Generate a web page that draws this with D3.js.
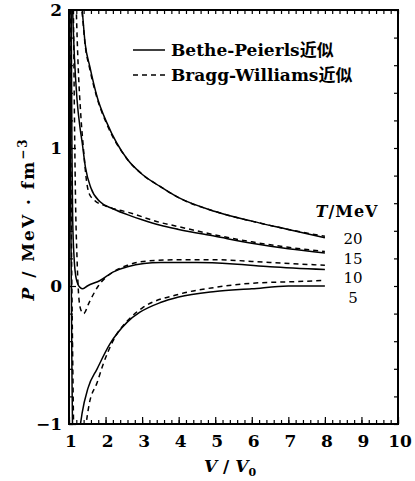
<!DOCTYPE html>
<html>
<head>
<meta charset="utf-8">
<script src="https://cdn.jsdelivr.net/npm/d3@7"></script>
<style>
  body { margin: 0; background: #fff; }
  svg { display: block; }
  text { font-family: "DejaVu Serif", "Noto Sans CJK SC", serif; fill: #000; }
</style>
</head>
<body>
<div id="chart"></div>
<script>
//----------------------------DATA------------------------------//
// V/V0 and P (MeV fm^-3), one pair of arrays per isotherm
var tempLabels = ["20", "15", "10", "5"];

var bp20V = [1.34, 1.36, 1.44, 1.57, 1.77, 2.04, 2.59, 3.0, 3.5, 4.0, 5.0, 6.0, 7.0, 8.0];
var bp20P = [2.05, 2.0, 1.76, 1.59, 1.37, 1.18, 0.92, 0.81, 0.72, 0.64, 0.54, 0.47, 0.41, 0.35];
var bw20V = [1.33, 1.36, 1.44, 1.57, 1.77, 2.04, 2.59, 3.0, 3.5, 4.0, 5.0, 6.0, 7.0, 8.0];
var bw20P = [2.05, 1.98, 1.75, 1.57, 1.36, 1.17, 0.92, 0.81, 0.72, 0.64, 0.54, 0.47, 0.41, 0.36];

var bp15V = [1.09, 1.1, 1.15, 1.22, 1.3, 1.36, 1.45, 1.6, 1.85, 2.2, 2.67, 3.0, 3.5, 4.0, 5.0, 6.0, 7.0, 8.0];
var bp15P = [2.1, 2.0, 1.65, 1.35, 1.15, 1.04, 0.86, 0.71, 0.61, 0.56, 0.51, 0.48, 0.44, 0.41, 0.36, 0.31, 0.27, 0.24];
var bw15V = [1.19, 1.2, 1.25, 1.32, 1.4, 1.48, 1.55, 1.7, 2.0, 2.67, 3.5, 4.0, 5.0, 6.0, 7.0, 8.0];
var bw15P = [2.1, 2.0, 1.6, 1.25, 0.98, 0.76, 0.67, 0.62, 0.58, 0.53, 0.46, 0.43, 0.37, 0.32, 0.28, 0.25];

var bp10V = [1.05, 1.06, 1.08, 1.1, 1.14, 1.2, 1.3, 1.38, 1.5, 1.85, 2.2, 2.6, 3.5, 4.5, 5.5, 6.5, 8.0];
var bp10P = [2.2, 2.0, 1.0, 0.5, 0.2, 0.05, -0.01, -0.02, 0.0, 0.04, 0.1, 0.14, 0.17, 0.17, 0.16, 0.14, 0.12];
var bw10V = [1.11, 1.12, 1.15, 1.18, 1.22, 1.26, 1.32, 1.4, 1.55, 1.8, 2.2, 2.6, 3.1, 4.0, 5.0, 6.5, 8.0];
var bw10P = [2.2, 2.0, 1.2, 0.6, 0.2, -0.05, -0.17, -0.2, -0.12, 0.0, 0.1, 0.15, 0.18, 0.19, 0.19, 0.17, 0.15];

var bp5V = [1.02, 1.03, 1.05, 1.08, 1.12, 1.2, 1.28, 1.36, 1.52, 1.77, 2.12, 2.6, 2.94, 3.5, 4.0, 5.0, 6.0, 7.0, 8.0];
var bp5P = [2.2, 1.6, 0.5, -0.6, -1.3, -1.4, -1.08, -0.92, -0.74, -0.6, -0.42, -0.26, -0.19, -0.12, -0.08, -0.04, -0.02, 0.0, 0.0];
var bw5V = [1.03, 1.04, 1.06, 1.1, 1.15, 1.25, 1.35, 1.45, 1.55, 1.77, 1.93, 2.2, 2.72, 3.0, 4.0, 5.0, 6.0, 7.0, 8.0];
var bw5P = [2.2, 1.6, 0.6, -0.5, -1.3, -1.6, -1.4, -1.05, -0.86, -0.7, -0.57, -0.4, -0.22, -0.16, -0.06, -0.01, 0.02, 0.03, 0.04];

var xTicks = [1, 2, 3, 4, 5, 6, 7, 8, 9, 10];
var yTicks = [-1, 0, 1, 2];

//-----------------------------SVG------------------------------//
var width = 415, height = 481;
var svg = d3.select("#chart").append("svg")
    .attr("width", width)
    .attr("height", height);

//----------------------------SCALES----------------------------//
var x = d3.scaleLinear().domain([1, 10]).range([69, 398]);
var y = d3.scaleLinear().domain([-1, 2]).range([424, 10]);

function pairs(vs, ps) {
    return vs.map(function(v, i) { return { v: v, p: ps[i] }; });
}

var series = [
    { t: "20", dash: false, values: pairs(bp20V, bp20P) },
    { t: "20", dash: true,  values: pairs(bw20V, bw20P) },
    { t: "15", dash: false, values: pairs(bp15V, bp15P) },
    { t: "15", dash: true,  values: pairs(bw15V, bw15P) },
    { t: "10", dash: false, values: pairs(bp10V, bp10P) },
    { t: "10", dash: true,  values: pairs(bw10V, bw10P) },
    { t: "5",  dash: false, values: pairs(bp5V, bp5P) },
    { t: "5",  dash: true,  values: pairs(bw5V, bw5P) }
];

svg.append("clipPath").attr("id", "plot")
  .append("rect")
    .attr("x", x(1)).attr("y", y(2))
    .attr("width", x(10) - x(1)).attr("height", y(-1) - y(2));

//----------------------------LINES-----------------------------//
var line = d3.line()
    .x(function(d) { return x(d.v); })
    .y(function(d) { return y(d.p); })
    .curve(d3.curveMonotoneX);

svg.append("g")
    .attr("clip-path", "url(#plot)")
  .selectAll("path")
    .data(series)
    .enter()
    .append("path")
    .attr("d", function(d) { return line(d.values); })
    .attr("fill", "none")
    .attr("stroke", "#000")
    .attr("stroke-width", 1.5)
    .attr("stroke-dasharray", function(d) { return d.dash ? "5,4" : null; });

//-----------------------------AXES-----------------------------//
// box with inward ticks on all four sides, minor ticks every 0.2
var xMinor = d3.range(1, 10.001, 0.2);
var yMinor = d3.range(-1, 2.001, 0.2);

function noDomain(g) { g.select(".domain").remove(); }

svg.append("g")
    .attr("transform", "translate(0," + y(-1) + ")")
    .call(d3.axisBottom(x).tickValues(xMinor).tickSize(-4).tickFormat(""))
    .call(noDomain);
svg.append("g")
    .attr("transform", "translate(0," + y(2) + ")")
    .call(d3.axisTop(x).tickValues(xMinor).tickSize(-4).tickFormat(""))
    .call(noDomain);
svg.append("g")
    .attr("transform", "translate(" + x(1) + ",0)")
    .call(d3.axisLeft(y).tickValues(yMinor).tickSize(-4).tickFormat(""))
    .call(noDomain);
svg.append("g")
    .attr("transform", "translate(" + x(10) + ",0)")
    .call(d3.axisRight(y).tickValues(yMinor).tickSize(-4).tickFormat(""))
    .call(noDomain);

// major ticks a little longer
svg.append("g")
    .attr("transform", "translate(0," + y(-1) + ")")
    .call(d3.axisBottom(x).tickValues(xTicks).tickSize(-7).tickFormat(""))
    .call(noDomain);
svg.append("g")
    .attr("transform", "translate(" + x(1) + ",0)")
    .call(d3.axisLeft(y).tickValues(yTicks).tickSize(-7).tickFormat(""))
    .call(noDomain);

svg.selectAll(".tick line").attr("stroke", "#000").attr("stroke-width", 1.2);

svg.append("rect")
    .attr("x", x(1)).attr("y", y(2))
    .attr("width", x(10) - x(1)).attr("height", y(-1) - y(2))
    .attr("fill", "none")
    .attr("stroke", "#000")
    .attr("stroke-width", 2);

// tick labels
svg.selectAll(".xlab")
    .data(xTicks)
    .enter()
    .append("text")
    .attr("class", "xlab")
    .attr("x", function(d) { return x(d) + 2; })
    .attr("y", 447)
    .attr("text-anchor", "middle")
    .style("font-size", "17px")
    .style("font-weight", "bold")
    .text(function(d) { return d; });

svg.selectAll(".ylab")
    .data(yTicks)
    .enter()
    .append("text")
    .attr("class", "ylab")
    .attr("x", 62)
    .attr("y", function(d) { return y(d) + 6; })
    .attr("text-anchor", "end")
    .style("font-size", "17px")
    .style("font-weight", "bold")
    .text(function(d) { return d < 0 ? "\u2212" + Math.abs(d) : d; });

//---------------------------TITLES-----------------------------//
var xt = svg.append("text")
    .attr("x", 230)
    .attr("y", 472)
    .attr("text-anchor", "middle")
    .style("font-size", "17px")
    .style("font-weight", "bold");
xt.append("tspan").style("font-style", "italic").text("V");
xt.append("tspan").text(" / ");
xt.append("tspan").style("font-style", "italic").text("V");
xt.append("tspan").attr("dy", 4).style("font-size", "11px").text("0");

var yt = svg.append("text")
    .attr("transform", "translate(34,219) rotate(-90)")
    .attr("text-anchor", "middle")
    .style("font-size", "17px")
    .style("font-weight", "bold")
    .style("letter-spacing", "2px");
yt.append("tspan").style("font-style", "italic").text("P");
yt.append("tspan").text(" / MeV \u00b7 fm");
yt.append("tspan").attr("dy", -7).style("font-size", "12px").text("\u22123");

//---------------------------LEGEND-----------------------------//
var legendRows = [
    { label: "Bethe-Peierls近似", dash: false, yy: 50 },
    { label: "Bragg-Williams近似", dash: true, yy: 75 }
];

var lg = svg.selectAll(".legend")
    .data(legendRows)
    .enter()
    .append("g")
    .attr("class", "legend");

lg.append("line")
    .attr("x1", 133).attr("x2", 165)
    .attr("y1", function(d) { return d.yy; })
    .attr("y2", function(d) { return d.yy; })
    .attr("stroke", "#000")
    .attr("stroke-width", 1.5)
    .attr("stroke-dasharray", function(d) { return d.dash ? "5,4" : null; });

lg.append("text")
    .attr("x", 171)
    .attr("y", function(d) { return d.yy + 6; })
    .style("font-size", "17px")
    .style("font-weight", "bold")
    .text(function(d) { return d.label; });

// temperature labels at the right end of the curves
var tl = svg.append("text")
    .attr("x", 347).attr("y", 217)
    .attr("text-anchor", "middle")
    .style("font-size", "16px")
    .style("font-weight", "bold")
    .style("letter-spacing", "1px");
tl.append("tspan").style("font-style", "italic").text("T");
tl.append("tspan").text("/MeV");

var tLabelY = [239, 259, 278, 298];
svg.selectAll(".tlab")
    .data(tempLabels)
    .enter()
    .append("text")
    .attr("class", "tlab")
    .attr("x", 353)
    .attr("y", function(d, i) { return tLabelY[i] + 5; })
    .attr("text-anchor", "middle")
    .style("font-size", "15px")
    .text(function(d) { return d; });
</script>
</body>
</html>
